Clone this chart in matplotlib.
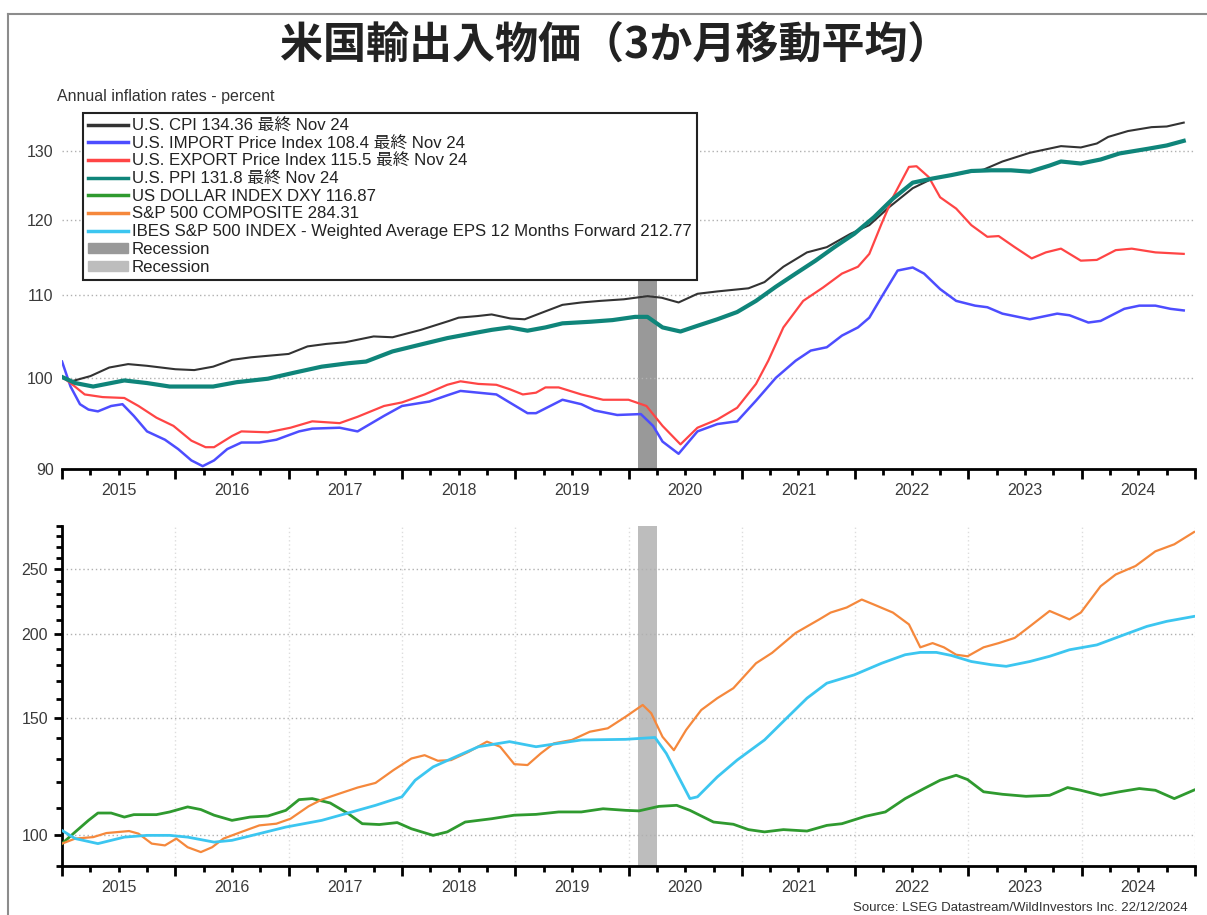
import matplotlib.pyplot as plt
import matplotlib.ticker as mticker
from matplotlib.lines import Line2D
from matplotlib.patches import Patch
import numpy as np

plt.rcParams['font.family'] = ['Liberation Sans', 'Noto Sans CJK JP']

# --- data: months since Jan 2015, index values ---
cpi_m = [0, 1, 3, 5, 7, 9, 12, 14, 16, 18, 20, 22, 24, 26, 28, 30, 33, 35, 38, 41, 42, 44,
         45.5, 47.5, 49, 51, 53, 55, 57, 59.5, 62, 63.5, 65.3, 67.3, 69.4, 72.7, 74.4, 76.4,
         78.9, 81, 83.5, 85.5, 87.6, 90.1, 92.2, 95, 97.6, 99.6, 102.5, 105.8, 107.9, 109.6,
         110.8, 112.9, 115.4, 117, 118.8]
cpi_v = [100.0, 99.6, 100.2, 101.2, 101.6, 101.4, 101.0, 100.9, 101.3, 102.1, 102.4, 102.6,
         102.8, 103.7, 104.0, 104.2, 104.9, 104.8, 105.7, 106.8, 107.2, 107.4, 107.6, 107.1,
         107.0, 107.9, 108.8, 109.1, 109.3, 109.5, 109.9, 109.7, 109.1, 110.2, 110.5, 110.9,
         111.7, 113.7, 115.6, 116.3, 118.1, 119.3, 121.8, 124.5, 125.9, 126.6, 127.2, 128.4,
         129.7, 130.7, 130.5, 131.1, 132.1, 133.0, 133.6, 133.7, 134.3]

imp_m = [0, 0.9, 1.9, 2.8, 3.8, 5.2, 6.4, 7.6, 9, 10.9, 12.3, 13.7, 14.9, 16.1, 17.5, 19,
         20.9, 22.7, 25.1, 26.5, 29.4, 31.3, 34.1, 36, 38.9, 40.8, 42.2, 44.1, 46, 47.4, 49.3,
         50.2, 53, 55, 56.4, 58.8, 61.3, 62.6, 63.6, 65.3, 67.3, 69.4, 71.5, 73.5, 75.6, 77.7,
         79.3, 81, 82.6, 84.3, 85.5, 86.8, 88.5, 90.1, 91.3, 93, 94.7, 96.7, 98, 99.6, 102.5,
         105.4, 106.7, 108.7, 110, 112.5, 114.1, 115.8, 117.4, 118.8]
imp_v = [101.9, 99.0, 97.0, 96.4, 96.2, 96.8, 97.0, 95.7, 94.0, 93.1, 92.1, 90.9, 90.3, 90.9,
         92.1, 92.8, 92.8, 93.1, 94.0, 94.3, 94.4, 94.0, 95.7, 96.8, 97.3, 98.0, 98.5, 98.3,
         98.1, 97.2, 96.0, 96.0, 97.5, 97.0, 96.3, 95.8, 95.9, 94.6, 92.9, 91.6, 94.0, 94.8,
         95.1, 97.4, 100.0, 102.0, 103.2, 103.6, 105.0, 106.0, 107.2, 109.8, 113.2, 113.6,
         112.8, 110.8, 109.3, 108.7, 108.5, 107.7, 107.0, 107.7, 107.5, 106.6, 106.8, 108.3,
         108.7, 108.7, 108.3, 108.1]

exp_m = [0, 0.9, 2.4, 4.3, 6.6, 8.1, 10, 11.8, 13.7, 15.2, 16.1, 18, 19, 21.8, 24.2, 26.5,
         29.4, 31.3, 34.1, 36, 38.4, 40.8, 42.2, 44.1, 46, 47.4, 48.8, 50.2, 51.2, 52.6, 55,
         57.3, 60, 61.9, 63.6, 65.5, 67.3, 69.4, 71.5, 73.5, 74.8, 76.4, 78.5, 80.6, 82.6, 84.3,
         85.5, 86.8, 88, 89.7, 90.5, 91.8, 93, 94.7, 96.3, 98, 99.2, 100.9, 102.7, 104.2, 105.8,
         107.9, 109.6, 111.6, 113.3, 115.8, 118.8]
exp_v = [100.1, 99.4, 98.1, 97.8, 97.7, 96.8, 95.5, 94.6, 93.0, 92.3, 92.3, 93.5, 94.0, 93.9,
         94.4, 95.1, 94.9, 95.6, 96.8, 97.2, 98.1, 99.2, 99.6, 99.3, 99.2, 98.7, 98.1, 98.3,
         98.9, 98.9, 98.1, 97.5, 97.5, 96.8, 94.6, 92.6, 94.4, 95.3, 96.6, 99.3, 102.0, 106.0,
         109.3, 111.0, 112.8, 113.7, 115.4, 119.5, 123.2, 127.6, 127.7, 126.1, 123.2, 121.6,
         119.3, 117.7, 117.8, 116.3, 114.8, 115.6, 116.1, 114.5, 114.6, 115.9, 116.1, 115.6,
         115.4]

ppi_m = [0, 1.4, 3.3, 6.6, 9, 11.4, 14.2, 16, 18.5, 21.8, 24.6, 27.5, 30.3, 32.2, 35, 37.9,
         40.8, 43.6, 45.5, 47.4, 49.3, 51.2, 53, 56, 58.3, 60.7, 62, 63.6, 65.5, 67.3, 69.4,
         71.5, 73.5, 75.6, 77.7, 79.8, 81.8, 83.9, 86, 88, 90.1, 92.2, 94.2, 96.3, 98.4, 100.5,
         102.5, 104.6, 105.8, 107.9, 110, 112, 115, 117, 118.8]
ppi_v = [100.1, 99.4, 99.0, 99.7, 99.4, 99.0, 99.0, 99.0, 99.5, 99.9, 100.6, 101.3, 101.7,
         101.9, 103.1, 103.9, 104.7, 105.3, 105.7, 106.0, 105.6, 106.0, 106.5, 106.7, 106.9,
         107.3, 107.3, 106.0, 105.5, 106.2, 107.0, 107.9, 109.3, 111.1, 112.8, 114.5, 116.3,
         118.1, 120.4, 123.0, 125.3, 125.9, 126.4, 127.0, 127.1, 127.1, 126.9, 127.8, 128.4,
         128.1, 128.7, 129.6, 130.3, 130.8, 131.5]

dxy_m = [0, 1.4, 2.8, 3.8, 5.2, 6.6, 7.6, 10, 11.4, 13.3, 14.7, 16.1, 18, 19.9, 21.8, 23.7,
         25.1, 26.5, 28.4, 30.3, 31.8, 33.6, 35.5, 37, 39.3, 40.8, 42.7, 45.5, 47.9, 50.2, 52.6,
         55, 57.3, 59.7, 61.1, 63.2, 65.1, 66.5, 69, 71.1, 72.7, 74.4, 76.4, 78.9, 81, 82.6,
         85.1, 87.2, 89.3, 91.3, 93, 94.7, 95.9, 97.6, 99.6, 102.1, 104.6, 106.5, 107.9, 110,
         112, 114.1, 115.8, 117.8, 119.9]
dxy_v = [97.2, 101.2, 105.3, 108.0, 108.0, 106.5, 107.4, 107.4, 108.4, 110.3, 109.3, 107.2,
         105.3, 106.5, 106.9, 109.0, 113.1, 113.5, 111.8, 107.8, 104.1, 103.8, 104.5, 102.3,
         100.0, 101.2, 104.7, 105.9, 107.2, 107.5, 108.4, 108.4, 109.6, 109.0, 108.8, 110.5,
         110.9, 109.0, 104.7, 103.9, 102.0, 101.2, 102.0, 101.5, 103.5, 104.1, 106.8, 108.4,
         113.5, 117.5, 120.9, 123.0, 121.2, 116.2, 115.2, 114.4, 114.8, 117.9, 116.8, 114.8,
         116.2, 117.5, 116.8, 113.5, 116.9]

spx_m = [0, 1.4, 3.3, 4.7, 7.1, 8.1, 9.5, 10.9, 12.1, 13.3, 14.7, 15.9, 17.1, 19, 20.9, 22.7,
         24.2, 26.1, 27.5, 29.4, 31.3, 33.2, 35.1, 37, 38.4, 39.8, 41.2, 43.1, 45, 46.4, 47.9,
         49.3, 50.7, 52.1, 54, 55.9, 57.8, 59.7, 61.5, 62.4, 63.6, 64.8, 66.1, 67.7, 69.4, 71.1,
         73.5, 75.2, 77.7, 80.2, 81.4, 83.1, 84.7, 86, 88, 89.7, 90.9, 92.2, 93.4, 94.7, 95.9,
         97.6, 99.2, 100.9, 102.5, 104.6, 106.7, 107.9, 110, 111.6, 113.7, 115.8, 117.8, 119.9]
spx_v = [97.2, 98.9, 99.4, 100.8, 101.5, 100.6, 97.2, 96.6, 98.9, 96.0, 94.4, 96.0, 98.9,
         101.2, 103.5, 104.1, 105.9, 110.5, 113.1, 115.5, 117.9, 119.8, 125.2, 130.3, 131.8,
         129.3, 129.6, 133.4, 138.1, 135.7, 127.8, 127.4, 132.6, 137.3, 138.9, 142.9, 144.6,
         150.5, 156.7, 152.3, 140.4, 134.1, 143.8, 154.0, 160.4, 166.0, 180.9, 187.5, 200.8,
         210.4, 215.4, 219.2, 225.3, 221.4, 215.4, 206.8, 191.1, 193.9, 191.1, 186.3, 185.3,
         191.1, 193.9, 197.4, 205.4, 216.6, 210.4, 215.4, 235.9, 245.6, 252.9, 266.0, 272.5,
         284.3]

eps_m = [0, 1.4, 3.8, 6.6, 9, 11.4, 13.3, 16.1, 18, 20.9, 23.7, 27.5, 30.3, 33.2, 36, 37.4,
         39.3, 41.7, 44.1, 47.4, 50.2, 52.6, 55, 59.7, 62.8, 64, 65.3, 66.5, 67.3, 69.4, 71.5,
         74.4, 76.9, 78.9, 81, 83.9, 86.8, 89.3, 90.9, 92.6, 94.2, 96.3, 98.4, 100, 102.5, 104.6,
         106.7, 109.6, 112.5, 114.9, 117, 119.9]
eps_v = [101.7, 98.9, 97.2, 99.4, 100.0, 100.0, 99.4, 97.7, 98.3, 100.6, 102.9, 105.3, 108.0,
         110.9, 114.2, 120.9, 126.6, 131.1, 135.7, 138.1, 135.7, 137.3, 138.9, 139.2, 140.1,
         132.6, 122.3, 113.5, 114.2, 122.3, 129.6, 138.9, 150.5, 160.4, 168.9, 173.8, 180.9,
         186.3, 187.8, 187.8, 185.8, 182.0, 180.0, 179.0, 182.0, 185.3, 189.5, 192.7, 199.6,
         205.4, 209.0, 212.6]

recession = (2020 + 1 / 12, 2020 + 3 / 12)
years = list(range(2015, 2025))

labels = ['U.S. CPI 134.36 最終 Nov 24',
          'U.S. IMPORT Price Index 108.4 最終 Nov 24',
          'U.S. EXPORT Price Index 115.5 最終 Nov 24',
          'U.S. PPI 131.8 最終 Nov 24',
          'US DOLLAR INDEX DXY 116.87',
          'S&P 500 COMPOSITE 284.31',
          'IBES S&P 500 INDEX - Weighted Average EPS 12 Months Forward 212.77',
          'Recession', 'Recession']


def yr(months):
    return 2015 + np.asarray(months) / 12.0


fig = plt.figure(figsize=(12.07, 9.15), dpi=100)
ax1 = fig.add_axes([0.0514, 0.4874, 0.9387, 0.3891])
ax2 = fig.add_axes([0.0514, 0.0536, 0.9387, 0.3716])

for ax in (ax1, ax2):
    ax.set_xlim(2015, 2025)
    ax.set_yscale('log')
    ax.spines['top'].set_visible(False)
    ax.spines['right'].set_visible(False)
    ax.spines['bottom'].set_linewidth(2)
    ax.xaxis.set_major_locator(mticker.FixedLocator(range(2015, 2026)))
    ax.xaxis.set_minor_locator(mticker.FixedLocator(np.arange(2015, 2025.01, 0.25)))
    ax.tick_params(axis='x', which='major', length=7, width=2, labelbottom=False)
    ax.tick_params(axis='x', which='minor', length=4, width=2)
    sec = ax.secondary_xaxis('bottom')
    sec.set_xticks([y + 0.5 for y in years], [str(y) for y in years])
    sec.tick_params(length=0, pad=10, labelsize=11.5, labelcolor='#3a3a3a')
    sec.spines['bottom'].set_visible(False)

# top panel
ax1.set_ylim(90, 135.8)
ax1.set_yticks([90, 100, 110, 120, 130], ['90', '100', '110', '120', '130'])
ax1.yaxis.set_minor_locator(mticker.NullLocator())
ax1.spines['left'].set_visible(False)
ax1.tick_params(axis='y', length=0, pad=6, labelsize=11.5, labelcolor='#3a3a3a')
ax1.grid(axis='y', which='major', linestyle=(0, (1, 2)), color='#b0b0b0', lw=1)
ax1.axvspan(*recession, color='#999999', lw=0, zorder=1)
h_cpi, = ax1.plot(yr(cpi_m), cpi_v, color='#333333', lw=1.5, zorder=3)
h_imp, = ax1.plot(yr(imp_m), imp_v, color='#4d4dff', lw=1.8, zorder=3)
h_exp, = ax1.plot(yr(exp_m), exp_v, color='#ff4545', lw=1.6, zorder=3)
h_ppi, = ax1.plot(yr(ppi_m), ppi_v, color='#0f857a', lw=3, zorder=3)

# bottom panel
ax2.set_ylim(90, 290.3)
ax2.set_yticks([100, 150, 200, 250], ['100', '150', '200', '250'])
ax2.yaxis.set_minor_locator(mticker.FixedLocator(
    [v for v in range(90, 291, 10) if v not in (100, 150, 200, 250)]))
ax2.yaxis.set_minor_formatter(mticker.NullFormatter())
ax2.spines['left'].set_linewidth(2)
ax2.tick_params(axis='y', which='major', length=6, width=2, pad=4,
                labelsize=11.5, labelcolor='#3a3a3a')
ax2.tick_params(axis='y', which='minor', length=4, width=2)
ax2.grid(axis='y', which='major', linestyle=(0, (1, 2)), color='#b0b0b0', lw=1)
ax2.grid(axis='x', which='major', linestyle=(0, (1, 2)), color='#dddddd', lw=1)
ax2.axvspan(*recession, color='#bdbdbd', lw=0, zorder=1)
h_dxy, = ax2.plot(yr(dxy_m), dxy_v, color='#2f9a2f', lw=2, zorder=3)
h_spx, = ax2.plot(yr(spx_m), spx_v, color='#f5883c', lw=1.6, zorder=3)
h_eps, = ax2.plot(yr(eps_m), eps_v, color='#3cc6f0', lw=2, zorder=3)

handles = [Line2D([], [], color=h.get_color(), lw=2.5)
           for h in (h_cpi, h_imp, h_exp, h_ppi, h_dxy, h_spx, h_eps)]
handles += [Patch(color='#999999'), Patch(color='#bdbdbd')]
leg = ax1.legend(handles, labels, loc='upper left',
                 bbox_to_anchor=(83 / 1207, 1 - 113 / 915), bbox_transform=fig.transFigure,
                 fontsize=12.1, labelspacing=0.16, handlelength=2.4, handleheight=0.55,
                 handletextpad=0.2, borderpad=0.3, borderaxespad=0,
                 frameon=True, fancybox=False, framealpha=1)
leg.get_frame().set_edgecolor('#222222')
leg.get_frame().set_linewidth(1.5)
for t in leg.get_texts():
    t.set_color('#222222')
leg.set_zorder(5)

fig.text(57 / 1207, 1 - 97 / 915, 'Annual inflation rates - percent', fontsize=11.5,
         color='#333333', va='center')
fig.text(0.51, 1 - 45 / 915, '米国輸出入物価（3か月移動平均）', fontsize=31,
         fontweight='bold', family='Noto Sans CJK JP', ha='center', va='center',
         color='#222222')
fig.text(1188 / 1207, 1 - 908 / 915,
         'Source: LSEG Datastream/WildInvestors Inc. 22/12/2024',
         fontsize=9.5, color='#333333', ha='right', va='center')

# outer frame (top and left edges)
fig.add_artist(Line2D([8 / 1207, 1], [1 - 14 / 915, 1 - 14 / 915], color='#8c8c8c', lw=1.5))
fig.add_artist(Line2D([8 / 1207, 8 / 1207], [0, 1 - 14 / 915], color='#8c8c8c', lw=1.5))

fig.savefig('out.png', dpi=100)
